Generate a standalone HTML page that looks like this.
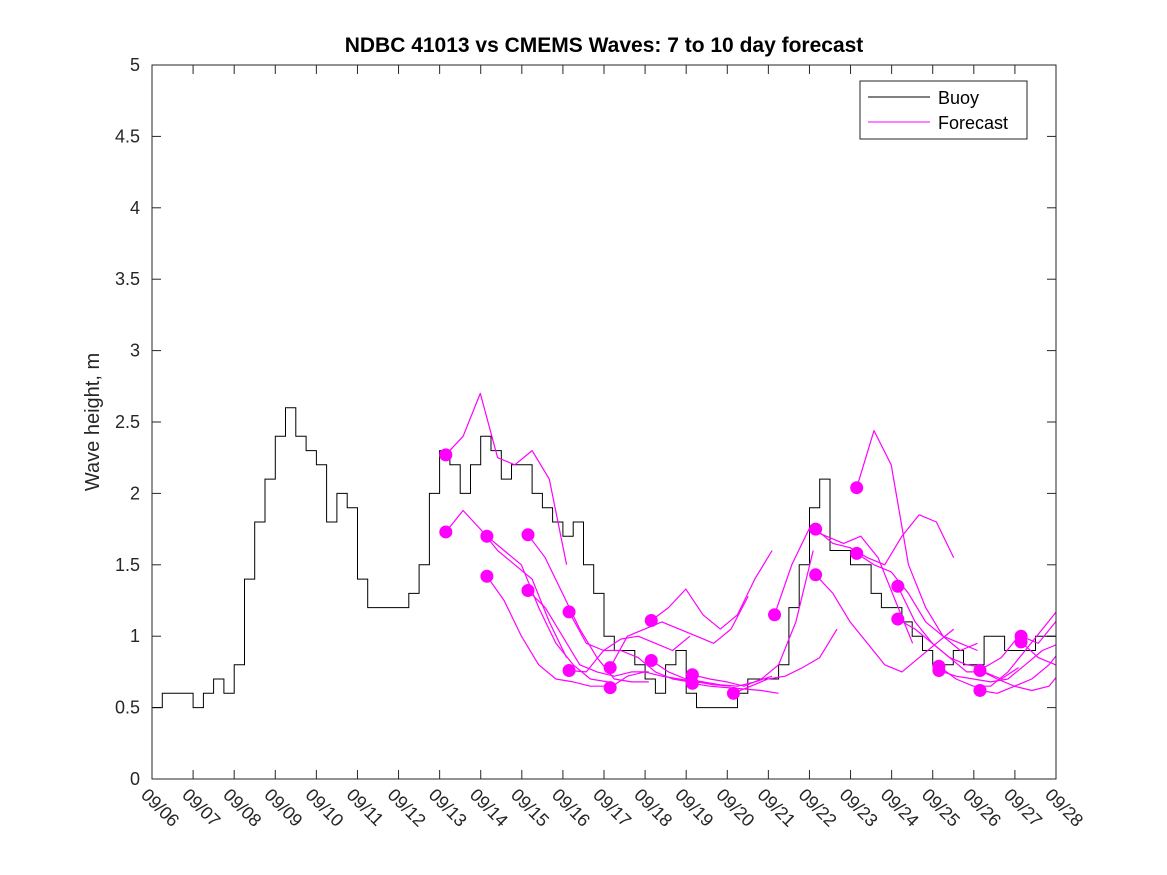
<!DOCTYPE html>
<html><head><meta charset="utf-8"><style>body{margin:0;background:#fff}svg{display:block;font-family:"Liberation Sans","DejaVu Sans",sans-serif}</style></head>
<body>
<svg id="chart" width="1167" height="875" viewBox="0 0 1167 875">
<defs><clipPath id="plotclip"><rect x="152" y="65" width="904" height="714"/></clipPath></defs>
<rect x="0" y="0" width="1167" height="875" fill="#fff"/>
<text x="604" y="52" text-anchor="middle" font-size="21" font-weight="bold" fill="#000">NDBC 41013 vs CMEMS Waves: 7 to 10 day forecast</text>
<text transform="translate(99,422) rotate(-90)" text-anchor="middle" font-size="20" fill="#262626">Wave height, m</text>
<g id="axes"></g>
<g id="series" clip-path="url(#plotclip)"></g>
<rect x="152" y="65" width="904" height="714" fill="none" stroke="#262626" stroke-width="1"/>
<g>
<rect x="860" y="81" width="167" height="58" fill="#fff" stroke="#262626"/>
<line x1="868" y1="97" x2="930" y2="97" stroke="#000"/>
<text x="938" y="104" font-size="18" fill="#000">Buoy</text>
<line x1="868" y1="122" x2="930" y2="122" stroke="#f0f"/>
<text x="938" y="129" font-size="18" fill="#000">Forecast</text>
</g>
</svg>
<script>
const xTickLabels=["09/06","09/07","09/08","09/09","09/10","09/11","09/12","09/13","09/14","09/15","09/16","09/17","09/18","09/19","09/20","09/21","09/22","09/23","09/24","09/25","09/26","09/27","09/28"];
const yTicks=[0,0.5,1,1.5,2,2.5,3,3.5,4,4.5,5];
const yTickLabels=["0","0.5","1","1.5","2","2.5","3","3.5","4","4.5","5"];
// buoy values every 6 hours from 09/06
const buoy=[0.5,0.6,0.6,0.6, 0.5,0.6,0.7,0.6, 0.8,1.4,1.8,2.1, 2.4,2.6,2.4,2.3, 2.2,1.8,2.0,1.9, 1.4,1.2,1.2,1.2,
 1.2,1.3,1.5,2.0, 2.3,2.2,2.0,2.2, 2.4,2.3,2.1,2.2, 2.2,2.0,1.9,1.8, 1.7,1.8,1.5,1.3, 1.0,0.9,0.9,0.8, 0.7,0.6,0.8,0.9,
 0.6,0.5,0.5,0.5, 0.5,0.6,0.7,0.7, 0.7,0.8,1.2,1.5, 1.9,2.1,1.6,1.6, 1.5,1.5,1.3,1.2, 1.2,1.1,1.0,0.9, 0.8,0.8,0.9,0.8,
 0.8,1.0,1.0,0.9, 0.9,0.9,1.0,1.0];
const fcStart=[7.15,7.15,8.15,8.15,9.15,9.15,10.15,10.15,11.15,11.15,12.15,12.15,13.15,13.15,14.15,15.15,16.15,16.15,17.15,17.15,18.15,18.15,19.15,19.15,20.15,20.15,21.15,21.15];
const fcValues=[
[2.27,2.4,2.7,2.25,2.2,2.3,2.1,1.5],
[1.73,1.88,1.75,1.6,1.5,1.4,1.1,0.85],
[1.70,1.60,1.50,1.20,0.95,0.80,0.70,0.68],
[1.42,1.25,1.00,0.80,0.70,0.68,0.65,0.65],
[1.71,1.55,1.30,1.05,0.85,0.70,0.68,0.68],
[1.32,1.20,1.00,0.80,0.75,0.72,0.75,0.75],
[1.17,0.95,0.90,0.98,1.00,0.95,0.90,1.00],
[0.76,0.75,0.90,0.90,0.85,0.75,0.70,0.68],
[0.78,1.00,1.05,1.10,1.05,1.00,0.95,1.05,1.28],
[0.64,0.72,0.75,0.72,0.70,0.68,0.66,0.65],
[1.11,1.20,1.33,1.15,1.05,1.15,1.40,1.60],
[0.83,0.75,0.70,0.68,0.66,0.65,0.68,0.72],
[0.73,0.70,0.68,0.65,0.70,0.80,1.10,1.60],
[0.67,0.65,0.64,0.63,0.62,0.60],
[0.60,0.65,0.70,0.72,0.78,0.85,1.05],
[1.15,1.50,1.75,1.70,1.65,1.70,1.55,1.25,0.95],
[1.75,1.65,1.62,1.55,1.50,1.70,1.85,1.80,1.55],
[1.43,1.30,1.10,0.95,0.80,0.75,0.85,0.95,1.05],
[2.04,2.44,2.20,1.50,1.20,1.00,0.90,0.95],
[1.58,1.50,1.45,1.30,1.10,1.00,0.95,0.90],
[1.35,1.10,0.95,0.85,0.75,0.75,0.70,0.78],
[1.12,1.05,0.95,0.85,0.80,0.78,0.85,1.00],
[0.79,0.70,0.65,0.65,0.75,0.90,1.05,1.20],
[0.76,0.72,0.70,0.68,0.70,0.80,0.90,0.95],
[0.76,0.70,0.65,0.62,0.65,0.80,0.85,0.82],
[0.62,0.60,0.65,0.70,0.80,0.95,1.10,0.95],
[1.00,0.95,1.10,1.25,1.18],
[0.96,0.85,0.80,0.85,0.95]
];
const NS="http://www.w3.org/2000/svg";
const X=d=>152+d*(904/22), Y=v=>779-v*(714/5);
const axes=document.getElementById('axes'), series=document.getElementById('series');
function mk(t,a,p){const e=document.createElementNS(NS,t);for(const k in a)e.setAttribute(k,a[k]);p.appendChild(e);return e;}
xTickLabels.forEach((l,i)=>{
 const x=X(i);
 const t1=mk('line',{x1:x,y1:779,x2:x,y2:770,stroke:'#262626'},axes);
 
 
 mk('line',{x1:x,y1:65,x2:x,y2:74,stroke:'#262626'},axes);
 const t=mk('text',{transform:`translate(${x-12},${796}) rotate(45)`,'font-size':18,fill:'#262626'},axes);
 t.textContent=l;
 
 
});
yTicks.forEach((v,i)=>{
 const y=Y(v);
 mk('line',{x1:152,y1:y,x2:161,y2:y,stroke:'#262626'},axes);
 mk('line',{x1:1056,y1:y,x2:1047,y2:y,stroke:'#262626'},axes);
 const t=mk('text',{x:140,y:y+6,'text-anchor':'end','font-size':18,fill:'#262626'},axes);
 t.textContent=yTickLabels[i];
 
 
});
let d='';
buoy.forEach((v,i)=>{const x0=X(i/4),x1=X((i+1)/4);d+=(i?'L':'M')+x0.toFixed(1)+' '+Y(v).toFixed(1)+'L'+x1.toFixed(1)+' '+Y(v).toFixed(1);});
const bl=mk('path',{d:d,fill:'none',stroke:'#000','stroke-width':1},series);


fcValues.forEach((vals,k)=>{
 const s=fcStart[k];
 let p='';
 vals.forEach((v,i)=>{p+=(i?'L':'M')+X(s+i*0.42).toFixed(1)+' '+Y(v).toFixed(1);});
 const pl=mk('path',{d:p,fill:'none',stroke:'#f0f','stroke-width':1.2,'stroke-linejoin':'round'},series);
 
 
});
fcValues.forEach((vals,k)=>{
 const c=mk('circle',{cx:X(fcStart[k]),cy:Y(vals[0]),r:6.5,fill:'#f0f'},series);
 
 
});
</script>
</body></html>
